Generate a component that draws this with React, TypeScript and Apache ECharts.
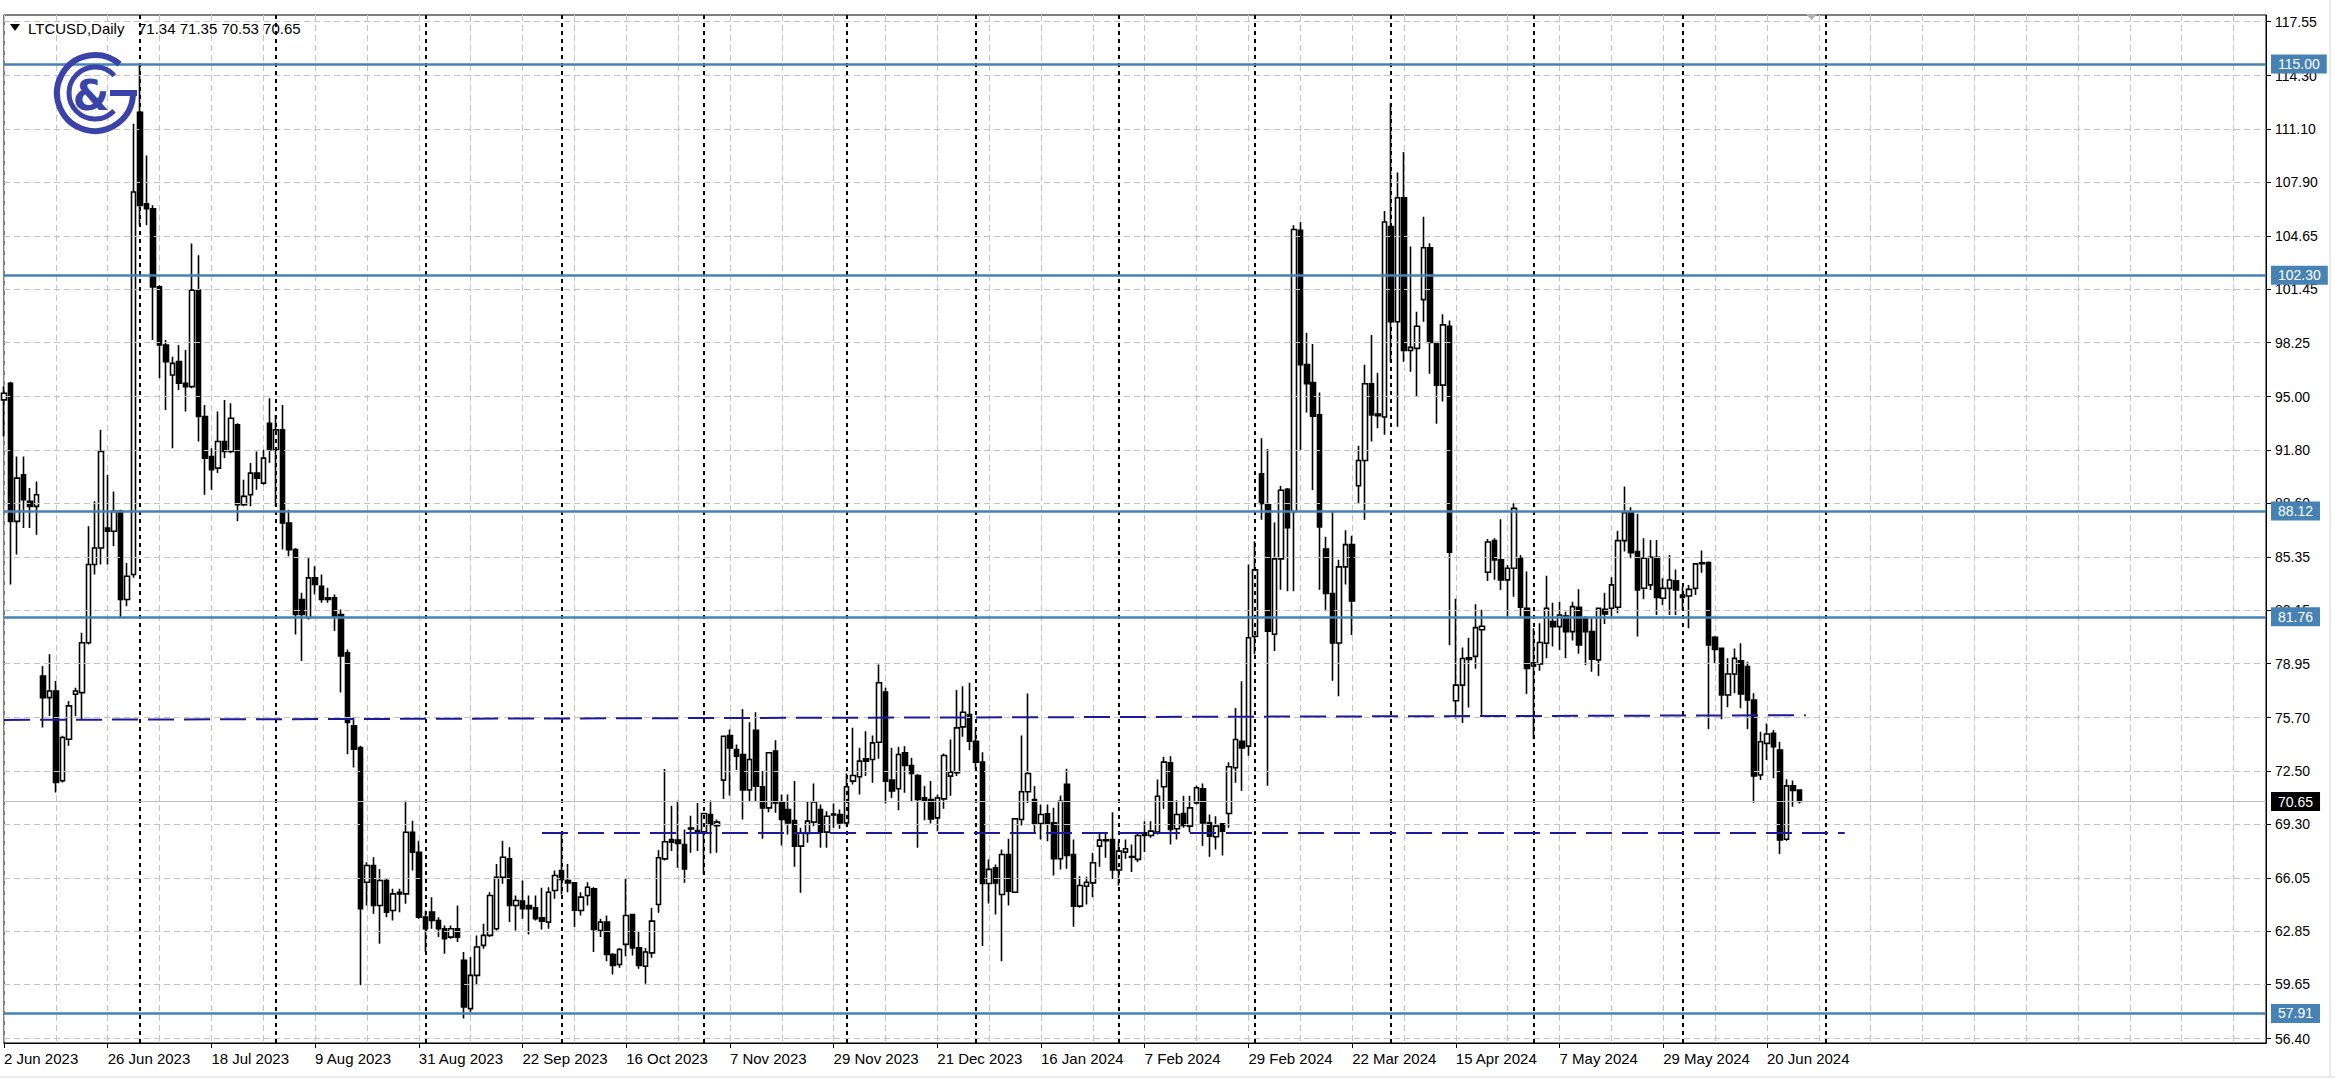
import React, { useEffect, useRef } from "react";
import * as echarts from "echarts";

// ---------- DATA (daily candles, [open, high, low, close]) ----------
const JUN_2023 = [
  [94.8, 95.6, 92.6, 95.2], [95.8, 95.9, 83.7, 87.5], [87.5, 91.4, 85.5, 90.1], [90.3, 91.4, 87.1, 88.8],
  [88.7, 89.5, 87.1, 88.4], [88.4, 89.9, 86.7, 89.1], [78.2, 78.8, 75.1, 76.9], [76.9, 79.5, 75.8, 77.3],
  [77.3, 77.9, 71.2, 71.8], [71.9, 74.6, 71.8, 74.5], [74.4, 76.7, 74.0, 76.4], [77.1, 77.5, 75.8, 77.3],
  [77.2, 80.8, 75.6, 80.2], [80.2, 87.2, 80.1, 84.9], [84.9, 88.7, 84.3, 85.9], [85.9, 93.0, 84.9, 91.7],
  [87.1, 90.3, 84.9, 86.9], [86.9, 89.3, 86.0, 88.1], [88.1, 88.2, 81.7, 82.8], [82.8, 85.0, 82.4, 84.2],
  [84.3, 111.4, 84.1, 107.3],
];
const JUL_2023 = [
  [112.1, 115.0, 105.3, 106.5], [106.6, 109.5, 105.3, 106.3], [106.3, 106.5, 98.4, 101.6], [101.6, 101.7, 96.1, 98.1],
  [98.1, 98.4, 94.2, 97.1], [96.3, 97.4, 91.9, 97.0], [97.1, 98.1, 95.4, 95.8], [95.8, 97.8, 94.1, 95.6],
  [95.6, 104.2, 95.5, 101.4], [101.4, 103.5, 92.3, 93.8], [93.8, 94.5, 89.1, 91.3], [91.4, 91.9, 89.4, 90.6],
  [90.7, 94.1, 90.4, 92.3], [92.3, 94.8, 91.3, 91.7], [91.7, 94.6, 91.6, 93.7], [93.3, 93.4, 87.5, 88.5],
  [88.5, 90.0, 88.4, 89.0], [89.1, 91.0, 88.4, 90.4], [90.4, 91.7, 89.4, 90.1], [89.8, 91.8, 89.7, 91.3],
  [93.4, 94.9, 91.0, 91.8],
];
const AUG_2023 = [
  [91.8, 93.9, 88.4, 93.0], [93.0, 94.5, 85.8, 87.4], [87.4, 88.2, 85.4, 85.8], [85.8, 85.9, 80.7, 81.9],
  [82.8, 83.2, 79.1, 81.9], [81.7, 85.3, 81.6, 84.1], [84.1, 84.8, 83.1, 83.7], [83.6, 84.3, 82.6, 82.8],
  [82.9, 83.5, 82.6, 82.8], [82.9, 83.1, 80.9, 81.8], [81.9, 82.2, 77.2, 79.4], [79.6, 79.8, 73.5, 75.4],
  [75.2, 75.7, 72.7, 73.8], [73.9, 74.0, 59.6, 64.2], [65.8, 67.0, 64.4, 66.8], [66.8, 67.3, 63.9, 64.4],
  [64.4, 66.6, 62.1, 65.9], [65.9, 66.0, 63.7, 64.0], [64.1, 65.4, 63.5, 65.1], [65.1, 65.4, 64.0, 65.2],
  [65.1, 70.7, 64.5, 68.8], [68.8, 69.5, 66.5, 67.6], [67.6, 68.3, 63.6, 63.7],
];
const SEP_2023 = [
  [63.7, 64.1, 61.6, 63.0], [64.0, 64.9, 63.0, 63.5], [63.5, 63.7, 62.5, 63.0], [63.0, 63.2, 61.5, 62.4],
  [62.5, 63.2, 62.4, 63.0], [63.0, 64.4, 62.2, 62.5], [61.1, 61.6, 57.6, 58.3], [58.2, 61.3, 58.0, 60.2],
  [60.2, 62.6, 59.6, 61.9], [62.0, 63.3, 61.8, 62.6], [62.6, 65.2, 62.5, 65.0], [63.0, 66.9, 62.9, 66.1],
  [66.1, 68.3, 65.7, 67.3], [67.2, 67.9, 63.4, 64.4], [64.4, 65.0, 62.9, 64.7], [64.66, 65.9, 63.6, 64.2],
  [64.4, 65.0, 62.66, 64.2], [64.26, 65.0, 63.5, 63.6], [63.66, 65.46, 62.96, 63.46], [63.4, 65.5, 63.0, 65.2],
  [65.3, 66.5, 64.8, 66.2],
];
const OCT_2023 = [
  [66.5, 68.8, 65.06, 65.96], [65.9, 66.9, 65.2, 65.75], [65.76, 65.8, 63.1, 64.12], [64.1, 65.2, 63.8, 64.9],
  [65.0, 65.8, 64.4, 65.5], [65.4, 65.5, 61.6, 62.96], [62.9, 63.6, 62.5, 63.4], [63.4, 63.8, 61.05, 61.45],
  [61.45, 61.55, 60.25, 60.8], [60.85, 61.85, 60.65, 61.75], [62.06, 66.0, 61.35, 63.8], [63.86, 63.9, 61.4, 61.85],
  [61.85, 62.8, 60.6, 60.8], [60.75, 61.85, 59.7, 61.6], [61.55, 64.26, 61.25, 63.46], [64.46, 67.73, 63.96, 67.27],
  [67.2, 72.6, 67.1, 68.23], [68.37, 70.4, 67.67, 68.2], [68.33, 70.7, 66.67, 68.13], [68.07, 68.97, 65.76, 66.6],
  [69.0, 69.8, 67.57, 69.05], [68.85, 70.57, 67.67, 68.9],
];
const NOV_2023 = [
  [68.81, 69.95, 66.27, 69.93], [69.87, 70.71, 67.53, 69.27], [69.2, 69.57, 67.57, 69.41], [71.94, 74.6, 70.81, 74.58],
  [74.62, 74.98, 71.01, 73.88], [73.78, 74.08, 72.54, 73.38], [73.48, 76.22, 69.57, 71.34], [71.34, 75.42, 70.67, 73.18],
  [74.94, 76.02, 70.67, 71.58], [71.54, 72.48, 68.41, 70.27], [70.27, 73.6, 70.0, 73.58], [73.68, 74.34, 69.97, 70.57],
  [70.57, 71.07, 68.01, 69.57], [70.17, 71.07, 68.67, 69.37], [69.51, 71.88, 66.73, 67.97], [67.97, 69.07, 65.16, 68.77],
  [68.73, 70.67, 68.17, 69.47], [69.41, 71.74, 69.17, 70.63], [70.17, 70.47, 67.87, 68.81], [68.81, 70.07, 67.87, 69.77],
  [69.85, 70.53, 69.07, 69.9], [69.87, 70.17, 69.01, 69.37],
];
const DEC_2023 = [
  [69.37, 72.34, 69.17, 71.54], [71.88, 75.08, 71.68, 72.22], [72.14, 73.88, 71.08, 73.08], [73.22, 74.88, 72.18, 73.08],
  [73.18, 74.62, 71.78, 74.18], [74.22, 78.89, 73.22, 77.79], [77.23, 77.49, 70.53, 71.88], [71.94, 73.88, 70.87, 71.28],
  [71.42, 73.94, 70.13, 73.48], [73.58, 73.98, 71.18, 72.82], [72.82, 73.28, 70.67, 72.34], [72.22, 72.3, 67.87, 70.77],
  [70.87, 71.58, 69.53, 70.73], [70.77, 71.88, 69.33, 69.61], [69.67, 71.08, 68.87, 70.87], [70.81, 73.54, 70.21, 73.42],
  [72.18, 74.38, 71.0, 72.42], [72.38, 77.35, 72.18, 75.08], [75.14, 77.59, 74.54, 76.02], [75.88, 77.79, 73.74, 74.28],
];
const JAN_2024 = [
  [74.28, 74.98, 72.58, 73.02], [73.02, 73.62, 61.96, 65.72], [65.72, 67.17, 64.52, 66.57], [66.67, 66.87, 63.86, 65.76],
  [65.06, 67.77, 61.05, 67.47], [67.47, 68.41, 64.4, 65.26], [65.2, 69.65, 65.15, 69.61], [69.57, 74.62, 69.21, 71.24],
  [71.24, 77.15, 70.57, 72.34], [70.77, 71.58, 68.77, 69.33], [69.33, 70.47, 68.37, 69.87], [69.91, 70.47, 68.27, 69.33],
  [69.37, 70.27, 66.2, 67.21], [67.21, 71.01, 66.57, 70.67], [71.68, 72.62, 66.61, 67.41], [67.47, 68.37, 63.12, 64.36],
  [64.36, 66.16, 64.26, 65.6], [65.56, 66.13, 64.46, 65.8], [65.76, 67.57, 64.9, 66.97], [67.97, 68.77, 66.73, 68.33],
  [68.3, 68.8, 67.27, 68.35], [68.37, 70.01, 66.0, 66.53],
];
const FEB_2024 = [
  [66.53, 68.27, 65.6, 67.67], [67.61, 68.37, 67.21, 67.81], [67.3, 68.07, 66.41, 67.35], [67.17, 68.81, 67.01, 68.61],
  [68.77, 69.47, 67.61, 68.61], [68.61, 69.47, 68.47, 68.87], [68.81, 71.98, 68.67, 70.97], [71.54, 73.34, 70.21, 73.02],
  [72.98, 73.38, 68.07, 68.97], [69.01, 70.73, 68.37, 69.87], [69.93, 71.0, 69.07, 69.21], [69.17, 71.0, 68.81, 70.27],
  [70.57, 71.62, 70.47, 71.48], [71.42, 71.74, 67.97, 69.37], [69.37, 69.87, 67.33, 68.57], [68.53, 69.77, 67.77, 69.17],
  [69.31, 69.35, 67.41, 68.87], [69.93, 73.02, 69.07, 72.74], [72.68, 76.28, 71.78, 74.38], [74.28, 77.89, 71.28, 73.88],
  [73.98, 84.9, 73.4, 80.5],
];
const MAR_2024 = [
  [80.58, 86.3, 79.5, 84.58], [90.36, 92.5, 87.6, 88.57], [88.5, 91.85, 71.6, 80.9], [80.71, 87.43, 79.7, 85.24],
  [85.24, 89.64, 83.38, 89.37], [89.43, 89.5, 83.3, 87.11], [88.09, 105.3, 83.3, 105.05], [105.0, 105.5, 91.77, 96.92],
  [96.92, 98.84, 94.04, 95.77], [95.85, 98.17, 89.37, 93.82], [93.9, 95.24, 83.38, 87.16], [85.83, 86.57, 82.1, 83.16],
  [83.16, 88.04, 77.91, 80.18], [80.18, 85.19, 76.98, 84.76], [84.76, 86.97, 83.7, 86.1], [86.1, 86.63, 80.66, 82.71],
  [89.64, 92.04, 88.57, 91.16], [91.16, 96.92, 87.59, 95.77], [95.77, 98.7, 92.3, 93.9], [93.95, 96.44, 93.1, 93.85],
  [93.77, 106.16, 92.7, 105.5],
];
const APR_2024 = [
  [105.23, 112.64, 97.1, 99.5], [99.5, 108.48, 93.19, 106.96], [106.96, 109.71, 97.1, 97.77], [97.77, 104.03, 96.49, 97.96],
  [97.9, 100.1, 94.97, 99.23], [100.83, 105.82, 99.5, 103.95], [103.95, 104.22, 96.38, 98.25], [98.25, 98.3, 93.37, 95.69],
  [95.69, 99.95, 94.7, 99.31], [99.23, 99.58, 80.05, 85.64], [76.71, 82.84, 75.65, 77.65], [77.65, 79.91, 75.38, 79.25],
  [79.2, 80.5, 76.31, 79.3], [79.38, 82.52, 78.63, 81.11], [80.98, 82.18, 75.78, 81.19], [84.44, 86.44, 83.91, 86.26],
  [86.34, 86.48, 83.98, 85.18], [85.18, 87.62, 83.37, 83.98], [83.98, 84.88, 81.77, 84.68], [84.68, 88.59, 82.97, 88.28],
  [85.28, 85.48, 81.77, 82.33], [82.27, 84.48, 77.12, 78.66],
];
const MAY_2024 = [
  [78.8, 81.07, 74.39, 79.0], [78.92, 81.37, 78.52, 80.21], [80.17, 84.22, 79.27, 82.27], [81.47, 82.61, 79.97, 81.17],
  [81.17, 82.67, 79.77, 81.87], [81.81, 82.07, 79.27, 80.87], [80.87, 82.67, 80.33, 82.37], [82.33, 83.41, 79.53, 80.07],
  [81.67, 81.81, 78.86, 80.87], [80.87, 81.67, 78.46, 79.21], [79.17, 82.3, 78.2, 82.27], [82.21, 83.21, 81.33, 81.93],
  [82.27, 84.14, 81.77, 83.68], [82.33, 86.94, 81.97, 86.34], [86.34, 89.59, 85.68, 88.02], [88.02, 88.35, 85.28, 85.62],
  [85.68, 87.95, 80.57, 83.38], [83.48, 86.48, 82.81, 85.28], [83.68, 86.38, 83.37, 85.34], [85.34, 86.38, 81.87, 82.93],
  [82.87, 84.07, 82.47, 83.47], [83.47, 85.48, 81.87, 83.97], [83.93, 84.61, 81.87, 83.37],
];
const JUN_2024 = [
  [83.07, 83.57, 82.17, 82.93], [83.01, 83.67, 81.07, 83.41], [83.47, 84.98, 83.07, 84.94], [84.95, 85.74, 84.41, 85.0],
  [85.02, 85.08, 74.99, 80.07], [80.53, 80.61, 78.96, 79.8], [79.86, 79.9, 75.6, 77.06], [77.06, 79.26, 76.32, 78.32],
  [78.32, 79.86, 77.16, 79.26], [79.12, 80.17, 76.26, 77.12], [78.76, 79.06, 74.99, 76.76], [76.76, 77.16, 70.58, 72.19],
  [72.25, 74.85, 71.95, 74.25], [74.15, 75.35, 73.15, 74.71], [74.75, 74.95, 72.05, 73.95], [73.75, 74.25, 67.5, 68.34],
  [68.38, 71.99, 68.3, 71.59], [71.59, 71.91, 70.34, 71.31], [71.34, 71.35, 70.53, 70.65],
];

// x-axis tick labels (one every 16 bars)
const X_LABELS = [
  "2 Jun 2023", "26 Jun 2023", "18 Jul 2023", "9 Aug 2023", "31 Aug 2023", "22 Sep 2023",
  "16 Oct 2023", "7 Nov 2023", "29 Nov 2023", "21 Dec 2023", "16 Jan 2024", "7 Feb 2024",
  "29 Feb 2024", "22 Mar 2024", "15 Apr 2024", "7 May 2024", "29 May 2024", "20 Jun 2024",
];
// price scale tick labels
const Y_TICKS = [
  117.55, 114.3, 111.1, 107.9, 104.65, 101.45, 98.25, 95.0, 91.8, 88.6,
  85.35, 82.15, 78.95, 75.7, 72.5, 69.3, 66.05, 62.85, 59.65, 56.4,
];
// bar indices of month-start period separators
const SEPARATORS = [21, 42, 65, 86, 108, 130, 150, 172, 193, 214, 236, 259, 281];
// horizontal support / resistance levels
const LEVELS = [115.0, 102.3, 88.12, 81.76, 57.91];
// dashed trend lines: [startBar, startPrice, endBar, endPrice]
const TRENDLINES = [
  [0, 75.56, 278, 75.84],
  [83, 68.8, 284, 68.79],
];
const SYMBOL = "LTCUSD,Daily";

// ---------- constants ----------
const TOTAL_SLOTS = 350;
const LABEL_STEP = 16;
const GRID_STEP = 8;
const Y_MIN = 56.131;
const Y_MAX = 117.946;
const FONT = "'Liberation Sans', Arial, sans-serif";
const STEEL = "#4682b4";
const NAVY = "#1a1a9a";
const LOGO = "#3a44a8";

const MONTHS = [
  JUN_2023, JUL_2023, AUG_2023, SEP_2023, OCT_2023, NOV_2023, DEC_2023,
  JAN_2024, FEB_2024, MAR_2024, APR_2024, MAY_2024, JUN_2024,
];
const CANDLES = MONTHS.flat();

export default function App() {
  const ref = useRef<HTMLDivElement>(null);

  useEffect(() => {
    if (!ref.current) return;
    const chart = echarts.init(ref.current, null, { renderer: "svg", width: 2335, height: 1089 });

    const categories = Array.from({ length: TOTAL_SLOTS }, (_, i) => String(i));
    const isLabel = (i: number) => i % LABEL_STEP === 0 && i / LABEL_STEP < X_LABELS.length;
    const seriesData = CANDLES.map(([o, h, l, c]) => [o, c, l, h]);
    const last = CANDLES[CANDLES.length - 1];
    const lastClose = last[3];
    const ohlcText = last.map((v) => v.toFixed(2)).join(" ");

    const boxLabel = (bg: string) => ({
      show: true,
      position: "end",
      distance: 5,
      color: "#ffffff",
      backgroundColor: bg,
      padding: [2, 7, 1, 7],
      fontSize: 14,
      fontFamily: FONT,
      lineHeight: 16,
    });

    const option: any = {
      animation: false,
      backgroundColor: "#ffffff",
      textStyle: { fontFamily: FONT },
      grid: {
        left: 4,
        right: 69,
        top: 15,
        bottom: 46,
        show: true,
        borderColor: "#000000",
        borderWidth: 1,
        backgroundColor: "#ffffff",
        outerBoundsMode: "none",
      },
      xAxis: {
        type: "category",
        data: categories,
        boundaryGap: false,
        axisLine: { show: true, lineStyle: { color: "#000000", width: 1 } },
        axisTick: {
          show: true,
          interval: (i: number) => isLabel(i),
          length: 5,
          lineStyle: { color: "#000000", width: 1 },
        },
        axisLabel: {
          show: true,
          interval: (i: number) => isLabel(i),
          formatter: (v: string) => X_LABELS[Number(v) / LABEL_STEP] ?? "",
          align: "left",
          fontSize: 15,
          color: "#000000",
          margin: 8,
          fontFamily: FONT,
        },
        splitLine: {
          show: true,
          interval: (i: number) => i % GRID_STEP === 0,
          lineStyle: { color: "#c4c4c4", type: [6, 4], width: 1 },
        },
      },
      yAxis: {
        type: "value",
        position: "right",
        min: Y_MIN,
        max: Y_MAX,
        axisLine: { show: true, lineStyle: { color: "#000000", width: 1 } },
        axisTick: { show: true, customValues: Y_TICKS, length: 5, lineStyle: { color: "#000000" } },
        axisLabel: {
          show: true,
          customValues: Y_TICKS,
          formatter: (v: number) => v.toFixed(2),
          fontSize: 14,
          color: "#000000",
          margin: 9,
          fontFamily: FONT,
        },
        splitLine: { show: false },
      },
      series: [
        {
          name: "grid-h",
          type: "line",
          data: [],
          z: 1,
          silent: true,
          markLine: {
            silent: true,
            symbol: ["none", "none"],
            animation: false,
            label: { show: false },
            lineStyle: { color: "#c4c4c4", type: [6, 4], width: 1 },
            emphasis: { disabled: true },
            data: Y_TICKS.map((v) => ({ yAxis: v })),
          },
        },
        {
          name: "separators",
          type: "line",
          data: [],
          z: 1,
          silent: true,
          markLine: {
            silent: true,
            symbol: ["none", "none"],
            animation: false,
            label: { show: false },
            lineStyle: { color: "#000000", type: [4, 4], width: 2 },
            emphasis: { disabled: true },
            data: SEPARATORS.map((k) => ({ xAxis: k })),
          },
        },
        {
          name: "price-line",
          type: "line",
          data: [],
          z: 1,
          silent: true,
          markLine: {
            silent: true,
            symbol: ["none", "none"],
            animation: false,
            lineStyle: { color: "#c0c0c0", type: "solid", width: 1 },
            label: { ...boxLabel("#000000") },
            emphasis: { disabled: true },
            data: [{ yAxis: lastClose, label: { formatter: lastClose.toFixed(2) } }],
          },
        },
        {
          name: SYMBOL,
          type: "candlestick",
          data: seriesData,
          z: 2,
          barWidth: 5,
          clip: true,
          itemStyle: {
            color: "#ffffff",
            color0: "#000000",
            borderColor: "#000000",
            borderColor0: "#000000",
            borderColorDoji: "#000000",
            borderWidth: 1.6,
          },
        },
        {
          name: "levels",
          type: "line",
          data: [],
          z: 3,
          silent: true,
          markLine: {
            silent: true,
            symbol: ["none", "none"],
            animation: false,
            lineStyle: { color: STEEL, type: "solid", width: 2.5 },
            label: { ...boxLabel(STEEL) },
            emphasis: { disabled: true },
            data: LEVELS.map((v) => ({ yAxis: v, label: { formatter: v.toFixed(2) } })),
          },
        },
        {
          name: "trendlines",
          type: "line",
          data: [],
          z: 3,
          silent: true,
          markLine: {
            silent: true,
            symbol: ["none", "none"],
            animation: false,
            label: { show: false },
            lineStyle: { color: NAVY, type: [26, 10], width: 2 },
            emphasis: { disabled: true },
            data: TRENDLINES.map(([k0, p0, k1, p1]) => [
              { coord: [k0, p0] },
              { coord: [k1, p1] },
            ]),
          },
        },
      ],
      graphic: {
        elements: [
          // header
          {
            type: "polygon",
            z: 100,
            shape: { points: [[10, 24], [20, 24], [15, 31]] },
            style: { fill: "#000000" },
          },
          {
            type: "text",
            z: 100,
            x: 28,
            y: 28,
            style: { text: SYMBOL, fontSize: 15, fontFamily: FONT, fill: "#000000", verticalAlign: "middle" },
          },
          {
            type: "text",
            z: 100,
            x: 138,
            y: 28,
            style: { text: ohlcText, fontSize: 15, fontFamily: FONT, fill: "#000000", verticalAlign: "middle" },
          },
          // logo
          {
            type: "arc",
            z: 100,
            shape: { cx: 95, cy: 93, r: 38, startAngle: 0.02, endAngle: 5.42, clockwise: true },
            style: { stroke: LOGO, lineWidth: 6, fill: null },
          },
          {
            type: "arc",
            z: 100,
            shape: { cx: 95, cy: 93, r: 26, startAngle: 0.75, endAngle: 5.55, clockwise: true },
            style: { stroke: LOGO, lineWidth: 5, fill: null },
          },
          {
            type: "rect",
            z: 100,
            shape: { x: 110, y: 90, width: 27, height: 6 },
            style: { fill: LOGO },
          },
          {
            type: "text",
            z: 100,
            x: 91,
            y: 95,
            style: {
              text: "&",
              fontSize: 42,
              fontWeight: "bold",
              fontFamily: "'DejaVu Sans', sans-serif",
              fill: LOGO,
              align: "center",
              verticalAlign: "middle",
            },
          },
          // chart-shift marker
          {
            type: "polygon",
            z: 100,
            shape: { points: [[1806, 14], [1817, 14], [1811.5, 20]] },
            style: { fill: "#b0b0b0" },
          },
          // window frame
          {
            type: "line",
            z: 100,
            shape: { x1: 0, y1: 1077, x2: 2335, y2: 1077 },
            style: { stroke: "#d8d8d8", lineWidth: 1 },
          },
          {
            type: "line",
            z: 100,
            shape: { x1: 2330, y1: 0, x2: 2330, y2: 1077 },
            style: { stroke: "#d8d8d8", lineWidth: 1 },
          },
        ],
      },
    };

    chart.setOption(option);
    return () => chart.dispose();
  }, []);

  return (
    <div
      ref={ref}
      style={{ position: "fixed", left: 0, top: 0, width: 2335, height: 1089, background: "#ffffff" }}
    />
  );
}
